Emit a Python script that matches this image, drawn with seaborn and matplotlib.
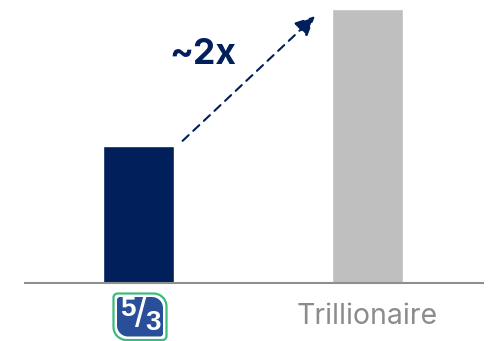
import matplotlib
matplotlib.use("Agg")
import matplotlib.pyplot as plt
import pandas as pd
import seaborn as sns
from matplotlib.path import Path
from matplotlib.patches import PathPatch
from matplotlib.transforms import Affine2D

W, H = 489, 341

categories = ["Fifth Third", "Trillionaire"]
values = [1.0, 2.0]
tick_labels = ["", "Trillionaire"]
bar_colors = ["#001f5b", "#bfbfbf"]

sns.set_theme(style="white")
plt.rcParams["font.family"] = ["Inter", "DejaVu Sans"]

fig = plt.figure(figsize=(W / 100, H / 100), dpi=100)
ax = fig.add_axes([25 / W, 1 - 282.5 / H, 458 / W, 282.5 / H])

df = pd.DataFrame({"bank": categories, "value": values})
sns.barplot(data=df, x="bank", y="value", hue="bank", palette=bar_colors,
            width=0.31, legend=False, ax=ax, saturation=1)

ax.set_xlim(-0.4943, 1.5057)
ax.set_ylim(0, 2.068)
ax.set_xlabel("")
ax.set_ylabel("")
ax.set_yticks([])
ax.set_xticks(range(len(categories)))
ax.set_xticklabels(tick_labels, fontsize=20.5, color="#8c8c8c")
ax.tick_params(axis="x", length=0, pad=14.5)
for side in ("top", "left", "right"):
    ax.spines[side].set_visible(False)
ax.spines["bottom"].set_color("#8f8f8f")
ax.spines["bottom"].set_linewidth(1.5)

# Dashed growth arrow between the two bars
ax.annotate("", xy=(0.772, 1.95), xytext=(0.194, 1.037),
            arrowprops=dict(arrowstyle="-|>,head_length=0.75,head_width=0.36",
                            color="#001f5b", lw=1.5, linestyle=(0, (4, 3)),
                            shrinkA=0, shrinkB=0, mutation_scale=16))
ax.text(0.283, 1.67, "~2x", color="#001f5b", fontsize=25.5, fontweight="bold",
        ha="center", va="center")


def badge(x0, y0, x1, y1, small, large):
    """Rounded shield: tight top-left and bottom-right corners, wide on the others."""
    k = 0.45
    verts = [(x0 + small, y0), (x1 - large, y0),
             (x1 - large * k, y0), (x1, y0 + large * k), (x1, y0 + large),
             (x1, y1 - small), (x1, y1 - small * k), (x1 - small * k, y1), (x1 - small, y1),
             (x0 + large, y1), (x0 + large * k, y1), (x0, y1 - large * k), (x0, y1 - large),
             (x0, y0 + small), (x0, y0 + small * k), (x0 + small * k, y0), (x0 + small, y0),
             (x0 + small, y0)]
    codes = [Path.MOVETO, Path.LINETO,
             Path.CURVE4, Path.CURVE4, Path.CURVE4,
             Path.LINETO, Path.CURVE4, Path.CURVE4, Path.CURVE4,
             Path.LINETO, Path.CURVE4, Path.CURVE4, Path.CURVE4,
             Path.LINETO, Path.CURVE4, Path.CURVE4, Path.CURVE4,
             Path.CLOSEPOLY]
    return Path(verts, codes)


# Bank badge under the first bar, laid out in pixels from the top-left corner
to_px = Affine2D().scale(1, -1).translate(0, H) + Affine2D().scale(1 / 100) + fig.dpi_scale_trans
fig.add_artist(PathPatch(badge(113.5, 293.5, 166.5, 340, 4, 13), transform=to_px,
                         facecolor="#ffffff", edgecolor="#3dbb7e", lw=1.6))
fig.add_artist(PathPatch(badge(117, 297, 163, 336.5, 3, 11), transform=to_px,
                         facecolor="#2a4f9a", edgecolor="none"))
for glyph, gx, gy, size, weight in [("5", 127.5, 308.5, 20, "bold"),
                                    ("/", 140.5, 316, 30, "light"),
                                    ("3", 153, 323.5, 20, "bold")]:
    fig.text(gx / W, 1 - gy / H, glyph, color="white", fontsize=size, fontweight=weight,
             ha="center", va="center", family=["Liberation Sans", "DejaVu Sans"])

fig.savefig("out.png", dpi=100)
